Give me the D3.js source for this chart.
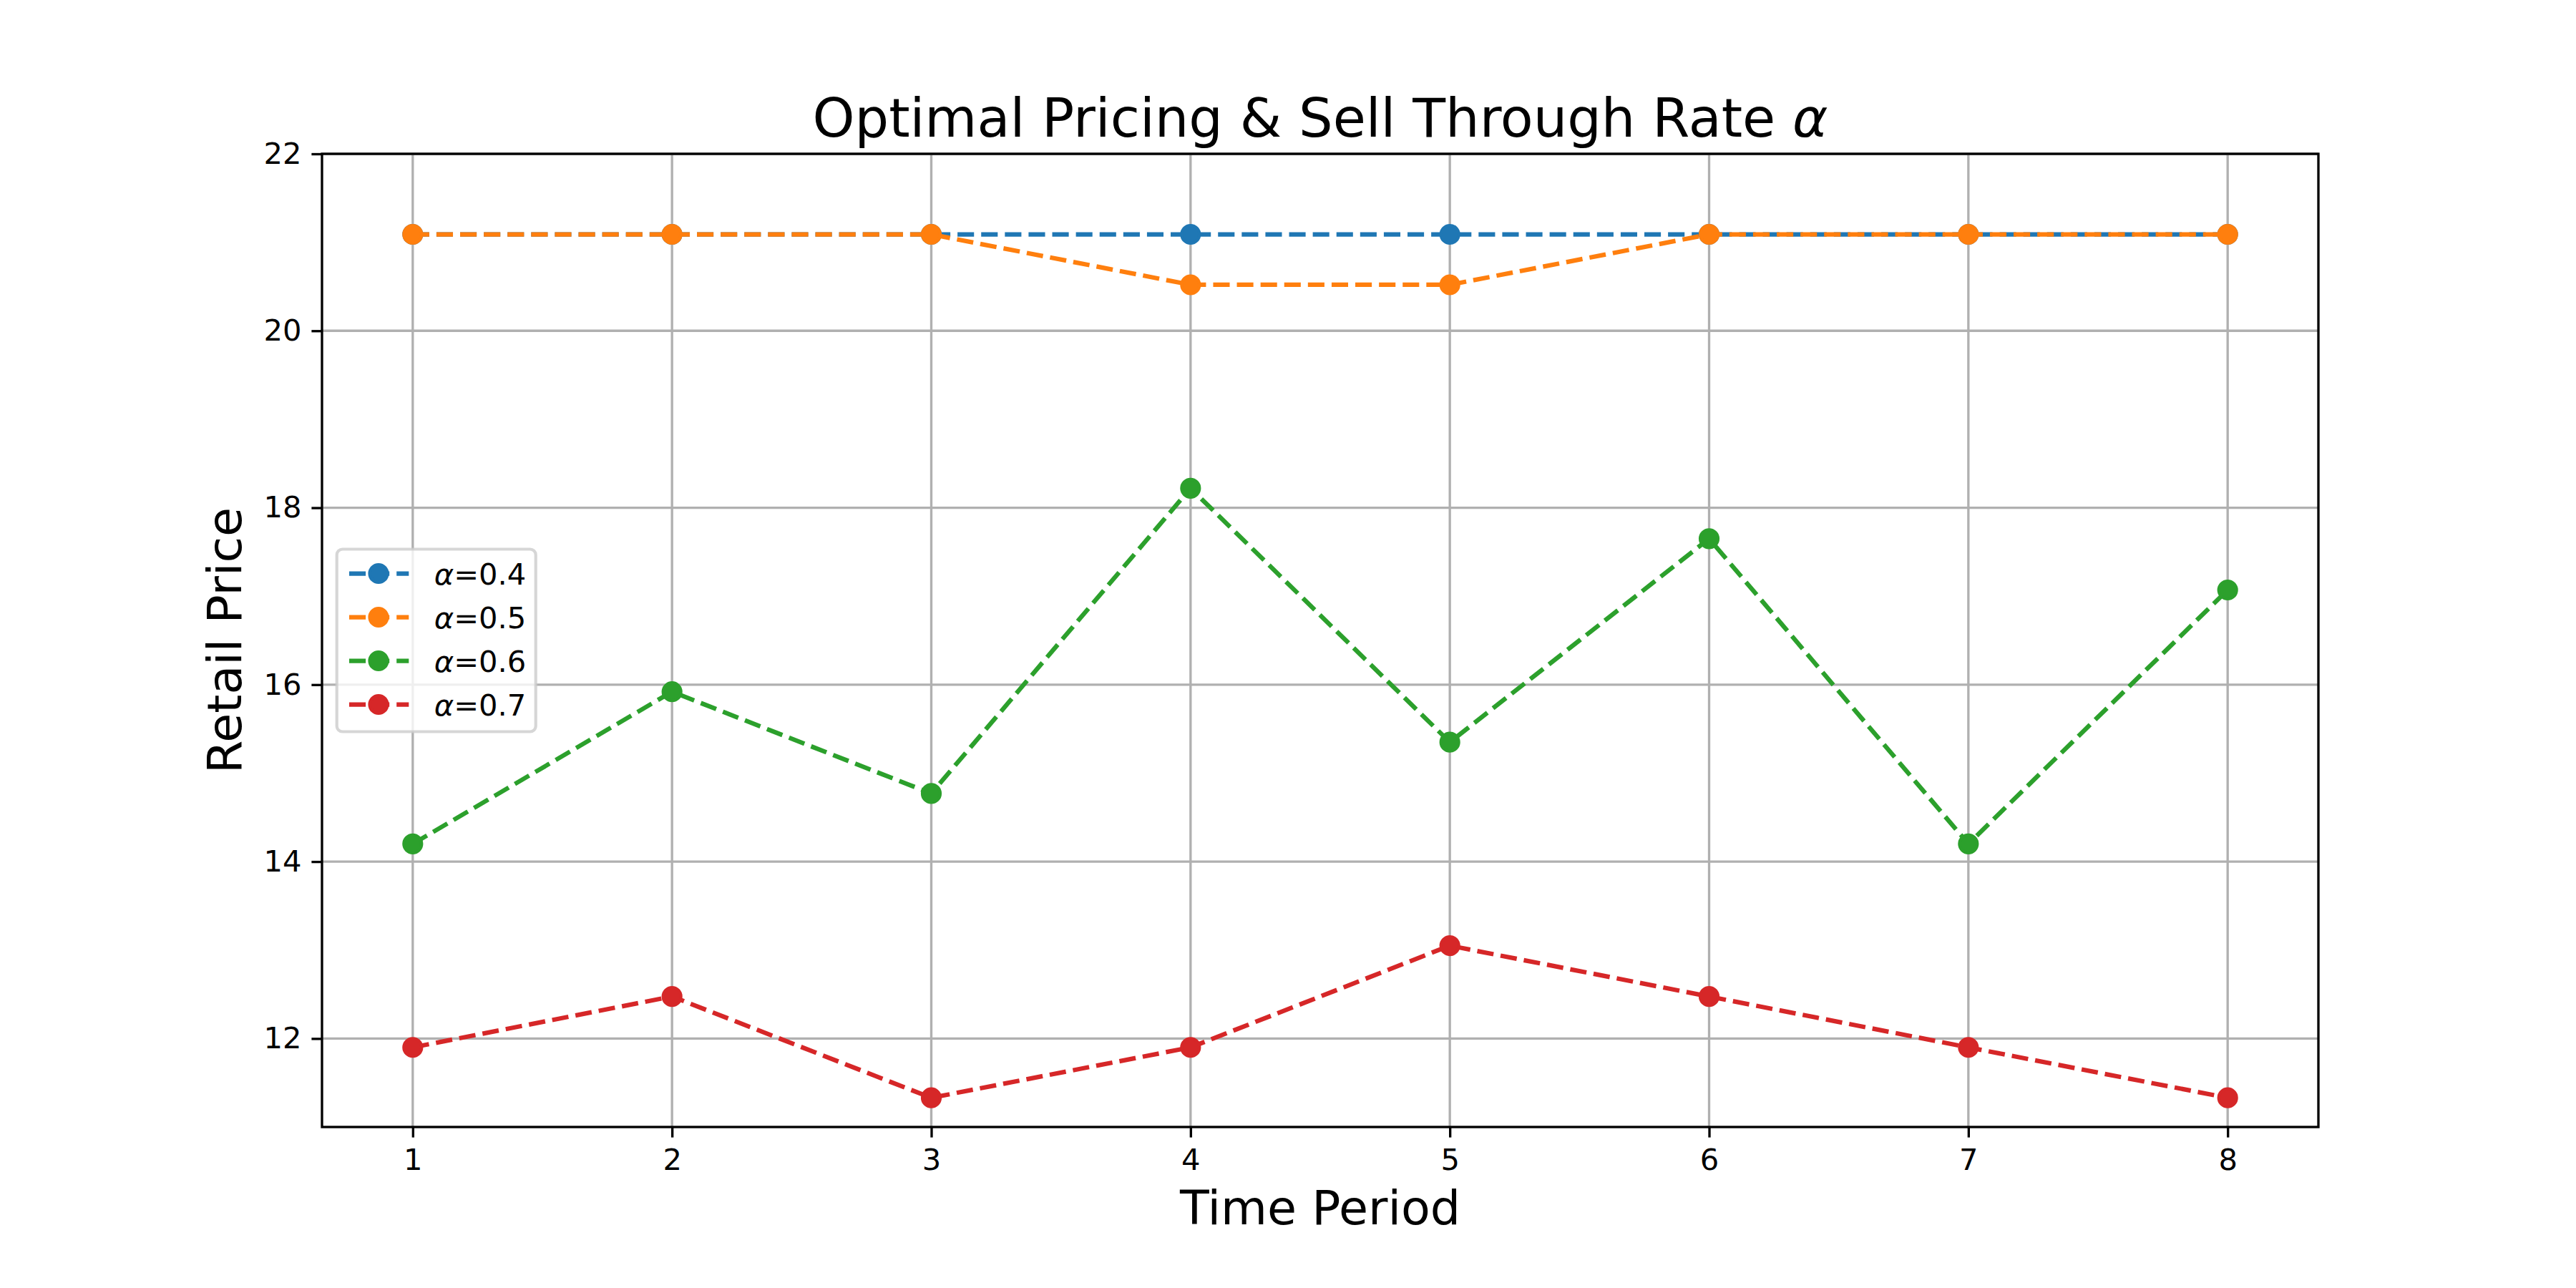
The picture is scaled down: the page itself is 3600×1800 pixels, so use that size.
<!DOCTYPE html>
<html>
<head>
<meta charset="utf-8">
<script src="https://cdn.jsdelivr.net/npm/d3@7"></script>
<style>
  body { margin: 0; background: #fff; }
  text { font-family: 'DejaVu Sans', sans-serif; fill: #000; }
</style>
</head>
<body>
<div id="chart"></div>
<script>
// data
var periods = [1, 2, 3, 4, 5, 6, 7, 8];
var alphaLabels = ['0.4', '0.5', '0.6', '0.7'];
var price04 = [21.09, 21.09, 21.09, 21.09, 21.09, 21.09, 21.09, 21.09];
var price05 = [21.09, 21.09, 21.09, 20.52, 20.52, 21.09, 21.09, 21.09];
var price06 = [14.20, 15.92, 14.77, 18.22, 15.35, 17.65, 14.20, 17.07];
var price07 = [11.90, 12.475, 11.33, 11.90, 13.05, 12.475, 11.90, 11.33];
var xTicks = [1, 2, 3, 4, 5, 6, 7, 8];
var yTicks = [12, 14, 16, 18, 20, 22];

var colors = ['#1f77b4', '#ff7f0e', '#2ca02c', '#d62728'];
var seriesValues = [price04, price05, price06, price07];

var W = 3600, H = 1800;
var margin = {top: 215, bottom: 225, left: 450, right: 360};
var width = W - margin.left - margin.right;
var height = H - margin.top - margin.bottom;

var x = d3.scaleLinear().domain([0.65, 8.35]).range([0, width]);
var y = d3.scaleLinear().domain([11, 22]).range([height, 0]);

var svg = d3.select('#chart').append('svg')
    .attr('width', W)
    .attr('height', H);

svg.append('rect').attr('width', W).attr('height', H).attr('fill', '#fff');

var g = svg.append('g')
    .attr('transform', 'translate(' + margin.left + ',' + margin.top + ')');

// grid
g.append('g').selectAll('line')
    .data(xTicks).enter()
    .append('line')
    .attr('x1', d => x(d)).attr('x2', d => x(d))
    .attr('y1', 0).attr('y2', height)
    .attr('stroke', '#b0b0b0').attr('stroke-width', 3.33);

g.append('g').selectAll('line')
    .data(yTicks).enter()
    .append('line')
    .attr('y1', d => y(d)).attr('y2', d => y(d))
    .attr('x1', 0).attr('x2', width)
    .attr('stroke', '#b0b0b0').attr('stroke-width', 3.33);

// series
var series = seriesValues.map(function(vals, i) {
    return {
        label: alphaLabels[i],
        color: colors[i],
        values: periods.map((p, j) => ({period: p, price: vals[j]}))
    };
});

var line = d3.line()
    .x(d => x(d.period))
    .y(d => y(d.price));

series.forEach(function(s) {
    var sg = g.append('g');
    sg.append('path')
        .datum(s.values)
        .attr('fill', 'none')
        .attr('stroke', s.color)
        .attr('stroke-width', 6.25)
        .attr('stroke-dasharray', '23.1,10')
        .attr('d', line);
    sg.selectAll('circle')
        .data(s.values).enter()
        .append('circle')
        .attr('cx', d => x(d.period))
        .attr('cy', d => y(d.price))
        .attr('r', 12.5)
        .attr('fill', s.color)
        .attr('stroke', s.color)
        .attr('stroke-width', 4.17);
});

// axes
var xAxis = d3.axisBottom(x).tickValues(xTicks).tickSize(14.6).tickPadding(14).tickSizeOuter(0);
var yAxis = d3.axisLeft(y).tickValues(yTicks).tickSize(14.6).tickPadding(14).tickSizeOuter(0);

var xg = g.append('g')
    .attr('transform', 'translate(0,' + height + ')')
    .call(xAxis);
var yg = g.append('g').call(yAxis);

[xg, yg].forEach(function(a) {
    a.select('.domain').remove();
    a.selectAll('.tick line').attr('stroke', '#000').attr('stroke-width', 3.33);
    a.selectAll('.tick text')
        .attr('font-size', 41.67)
        .attr('font-family', 'DejaVu Sans')
        .attr('fill', '#000');
});
xg.selectAll('.tick text').attr('dy', '0.76em');

// spines
g.append('rect')
    .attr('width', width).attr('height', height)
    .attr('fill', 'none')
    .attr('stroke', '#000')
    .attr('stroke-width', 3.33);

// legend
var legend = g.append('g').attr('transform', 'translate(20.7,' + (height / 2 - 127.5) + ')');
legend.append('rect')
    .attr('width', 278).attr('height', 255)
    .attr('rx', 8).attr('ry', 8)
    .attr('fill', 'rgba(255,255,255,0.8)')
    .attr('stroke', 'rgba(204,204,204,0.8)')
    .attr('stroke-width', 4.17);

var items = legend.selectAll('.item')
    .data(series).enter()
    .append('g')
    .attr('class', 'item')
    .attr('transform', (d, i) => 'translate(0,' + (34 + i * 61) + ')');

items.append('line')
    .attr('x1', 17.3).attr('x2', 100.6)
    .attr('y1', 0).attr('y2', 0)
    .attr('stroke', d => d.color)
    .attr('stroke-width', 6.25)
    .attr('stroke-dasharray', '23.1,10');
items.append('circle')
    .attr('cx', 58.3).attr('cy', 0)
    .attr('r', 12.5)
    .attr('fill', d => d.color)
    .attr('stroke', d => d.color)
    .attr('stroke-width', 4.17);

var lt = items.append('text')
    .attr('x', 136)
    .attr('y', 15)
    .attr('font-size', 41.67);
lt.append('tspan').attr('font-style', 'italic').text('\u03b1');
lt.append('tspan').text(d => '=' + d.label);

// title and axis labels
var title = svg.append('text')
    .attr('x', margin.left + width / 2)
    .attr('y', 191)
    .attr('text-anchor', 'middle')
    .attr('font-size', 75);
title.append('tspan').text('Optimal Pricing & Sell Through Rate ');
title.append('tspan').attr('font-style', 'italic').text('\u03b1');

svg.append('text')
    .attr('x', margin.left + width / 2)
    .attr('y', 1711)
    .attr('text-anchor', 'middle')
    .attr('font-size', 66.67)
    .text('Time Period');

svg.append('text')
    .attr('transform', 'translate(337,' + (margin.top + height / 2) + ') rotate(-90)')
    .attr('text-anchor', 'middle')
    .attr('font-size', 66.67)
    .text('Retail Price');
</script>
</body>
</html>
